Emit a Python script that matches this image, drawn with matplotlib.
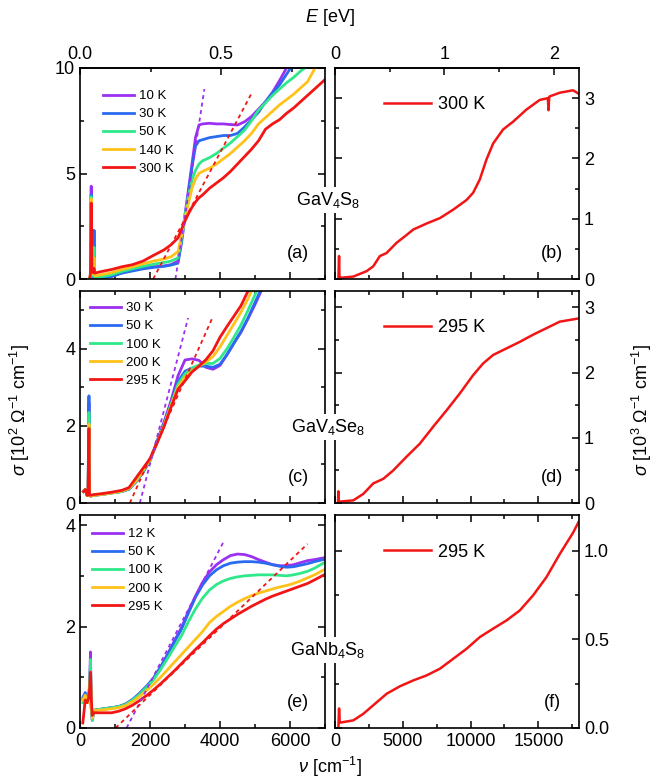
import numpy as np
import matplotlib
matplotlib.use('Agg')
import matplotlib.pyplot as plt
from matplotlib.ticker import MultipleLocator, FixedLocator, FormatStrFormatter

# ---- data (nu in cm^-1, sigma in panel units) ----
CM_PER_EV = 8065.54

# panel (a) GaV4S8, 10^2 Ohm^-1 cm^-1
nu_a = [280, 300, 320, 340, 360, 380, 400, 420, 600, 900, 1200, 1500, 1800, 2100,
        2400, 2600, 2800, 2900, 3000, 3100, 3200, 3300, 3400, 3500, 3700, 3900,
        4100, 4300, 4500, 4700, 4900, 5100, 5300, 5500, 5700, 5900, 6100, 6300,
        6500, 6700, 7000]
temps_a = ['10 K', '30 K', '50 K', '140 K', '300 K']
sig_a_10 = [0, 0.2, 4.4, 0.2, 0.1, 0.3, 2.3, 0.05, 0.08, 0.13, 0.3, 0.42, 0.52, 0.58,
            0.62, 0.68, 0.85, 1.85, 3.05, 4.25, 5.45, 6.7, 7.3, 7.35, 7.38, 7.35,
            7.35, 7.32, 7.3, 7.45, 7.7, 8.05, 8.4, 8.85, 9.4, 10.0, 10.5, 10.9,
            11.3, 11.7, 12.2]
sig_a_30 = [0, 0.2, 4.0, 0.2, 0.1, 0.3, 2.3, 0.05, 0.06, 0.12, 0.28, 0.38, 0.48, 0.55,
            0.6, 0.66, 0.75, 1.7, 2.95, 4.1, 5.3, 6.3, 6.55, 6.6, 6.7, 6.75,
            6.8, 6.8, 6.9, 7.2, 7.55, 7.9, 8.4, 8.8, 9.2, 9.7, 10.2, 10.6,
            11.0, 11.4, 12.0]
sig_a_50 = [0, 0.2, 3.9, 0.25, 0.15, 0.3, 1.5, 0.08, 0.1, 0.2, 0.36, 0.48, 0.6, 0.7,
            0.78, 0.85, 1.0, 1.9, 3.0, 3.95, 4.7, 5.15, 5.45, 5.6, 5.75, 5.95,
            6.2, 6.45, 6.75, 7.05, 7.5, 8.0, 8.35, 8.7, 9.0, 9.3, 9.55, 9.85,
            10.1, 10.4, 10.8]
sig_a_140 = [0, 0.25, 3.8, 0.3, 0.25, 0.3, 1.0, 0.15, 0.2, 0.3, 0.45, 0.58, 0.72, 0.85,
             0.95, 1.05, 1.3, 2.05, 2.9, 3.6, 4.3, 4.75, 5.0, 5.1, 5.25, 5.45,
             5.7, 5.95, 6.25, 6.55, 6.9, 7.35, 7.65, 7.95, 8.25, 8.5, 8.75, 9.05,
             9.35, 9.95, 10.5]
sig_a_300 = [0, 0.3, 3.6, 0.4, 0.35, 0.3, 0.5, 0.28, 0.35, 0.45, 0.58, 0.68, 0.85, 1.12,
             1.38, 1.62, 1.95, 2.35, 2.75, 3.1, 3.4, 3.65, 3.85, 3.98, 4.3, 4.55,
             4.8, 5.1, 5.45, 5.8, 6.15, 6.55, 7.1, 7.35, 7.55, 7.85, 8.1, 8.4,
             8.7, 9.0, 9.45]
fit_a_10 = ([2727, 3553], [0, 9.0])
fit_a_300 = ([2090, 4883], [0, 8.74])

# panel (c) GaV4Se8
nu_c = [100, 150, 200, 230, 256, 270, 300, 400, 600, 900, 1200, 1400, 1600, 1800,
        2000, 2200, 2400, 2600, 2800, 3000, 3200, 3400, 3600, 3800, 4000, 4200,
        4400, 4600, 4800, 5000, 5200]
temps_c = ['30 K', '50 K', '100 K', '200 K', '295 K']
sig_c_30 = [0.3, 0.35, 0.2, 0.2, 2.6, 0.2, 0.18, 0.2, 0.22, 0.26, 0.3, 0.36, 0.55, 0.8,
            1.1, 1.6, 2.1, 2.65, 3.3, 3.71, 3.74, 3.7, 3.52, 3.47, 3.57, 3.85,
            4.15, 4.43, 4.78, 5.15, 5.55]
sig_c_50 = [0.3, 0.35, 0.2, 0.2, 2.78, 0.2, 0.18, 0.2, 0.22, 0.26, 0.3, 0.36, 0.55, 0.8,
            1.1, 1.58, 2.05, 2.58, 3.15, 3.42, 3.5, 3.55, 3.55, 3.52, 3.6, 3.85,
            4.15, 4.45, 4.8, 5.2, 5.6]
sig_c_100 = [0.3, 0.35, 0.2, 0.2, 2.35, 0.2, 0.18, 0.2, 0.22, 0.26, 0.3, 0.37, 0.56, 0.82,
             1.1, 1.57, 2.02, 2.55, 3.08, 3.35, 3.5, 3.58, 3.62, 3.62, 3.75, 4.0,
             4.3, 4.62, 5.0, 5.4, 5.8]
sig_c_200 = [0.3, 0.35, 0.2, 0.2, 2.05, 0.2, 0.18, 0.2, 0.22, 0.26, 0.31, 0.38, 0.58, 0.85,
             1.12, 1.56, 2.0, 2.52, 3.0, 3.27, 3.42, 3.55, 3.66, 3.8, 4.05, 4.35,
             4.65, 4.95, 5.3, 5.7, 6.1]
sig_c_295 = [0.3, 0.35, 0.2, 0.2, 1.93, 0.22, 0.2, 0.22, 0.24, 0.28, 0.33, 0.4, 0.65, 0.9,
             1.15, 1.55, 1.98, 2.48, 2.95, 3.17, 3.4, 3.55, 3.72, 3.95, 4.3, 4.58,
             4.85, 5.12, 5.5, 5.9, 6.3]
fit_c_30 = ([1710, 3088], [0, 4.8])
fit_c_295 = ([1425, 3800], [0, 4.84])

# panel (e) GaNb4S8
nu_e = [80, 150, 200, 250, 280, 300, 320, 350, 400, 500, 700, 900, 1100, 1300, 1500,
        1700, 1900, 2100, 2300, 2500, 2700, 2900, 3100, 3300, 3500, 3700, 3900,
        4100, 4300, 4500, 4700, 4900, 5100, 5300, 5500, 5700, 5900, 6100, 6300,
        6500, 6700, 7000]
temps_e = ['12 K', '50 K', '100 K', '200 K', '295 K']
sig_e_12 = [0.55, 0.65, 0.55, 0.6, 1.0, 1.5, 0.4, 0.15, 0.35, 0.36, 0.38, 0.4, 0.42,
            0.47, 0.56, 0.68, 0.82, 0.98, 1.2, 1.45, 1.72, 1.98, 2.3, 2.6, 2.87,
            3.08, 3.22, 3.32, 3.4, 3.43, 3.42, 3.38, 3.32, 3.27, 3.22, 3.2, 3.2,
            3.22, 3.26, 3.3, 3.32, 3.36]
sig_e_50 = [0.6, 0.7, 0.6, 0.55, 0.9, 1.25, 0.4, 0.2, 0.35, 0.36, 0.38, 0.4, 0.42,
            0.47, 0.56, 0.68, 0.82, 0.98, 1.2, 1.44, 1.7, 1.95, 2.27, 2.58, 2.82,
            3.0, 3.12, 3.2, 3.25, 3.27, 3.28, 3.28, 3.27, 3.25, 3.22, 3.19, 3.17,
            3.18, 3.21, 3.24, 3.28, 3.33]
sig_e_100 = [0.5, 0.6, 0.5, 0.55, 0.9, 1.35, 0.5, 0.15, 0.35, 0.36, 0.38, 0.4, 0.42,
             0.46, 0.55, 0.66, 0.8, 0.95, 1.15, 1.37, 1.6, 1.82, 2.1, 2.35, 2.56,
             2.72, 2.83, 2.9, 2.95, 2.98, 3.0, 3.01, 3.02, 3.02, 3.02, 3.01, 3.0,
             3.02, 3.05, 3.09, 3.15, 3.27]
sig_e_200 = [0.55, 0.65, 0.55, 0.5, 0.8, 1.1, 0.5, 0.2, 0.35, 0.35, 0.36, 0.38, 0.4,
             0.44, 0.52, 0.62, 0.74, 0.86, 1.0, 1.15, 1.3, 1.45, 1.6, 1.75, 1.9,
             2.08, 2.2, 2.3, 2.4, 2.48, 2.55, 2.61, 2.66, 2.7, 2.74, 2.78, 2.81,
             2.85, 2.9, 2.96, 3.02, 3.13]
sig_e_295 = [0.1, 0.55, 0.5, 0.6, 0.8, 1.1, 0.6, 0.25, 0.3, 0.3, 0.3, 0.3, 0.33,
             0.38, 0.45, 0.54, 0.64, 0.75, 0.87, 1.0, 1.13, 1.27, 1.41, 1.55, 1.68,
             1.82, 1.95, 2.06, 2.15, 2.24, 2.32, 2.4, 2.47, 2.54, 2.6, 2.65, 2.7,
             2.75, 2.8, 2.85, 2.92, 3.03]
fit_e_12 = ([1330, 4123], [0, 3.7])
fit_e_295 = ([1016, 6500], [0, 3.63])

# right column, room temperature, 10^3 Ohm^-1 cm^-1
nu_b = [250, 300, 330, 400, 1350, 2330, 2820, 3310, 3800, 4540, 5280, 5770, 6750,
        7740, 8720, 9700, 10190, 10680, 11170, 11670, 12400, 13140, 14120, 15100,
        15700, 15750, 15800, 15850, 16580, 17560, 18000]
sig_b = [0.0, 0.38, 0.02, 0.02, 0.04, 0.13, 0.21, 0.38, 0.43, 0.6, 0.73, 0.82, 0.92,
         1.01, 1.15, 1.31, 1.43, 1.65, 1.98, 2.25, 2.48, 2.61, 2.81, 2.97,
         3.0, 2.8, 3.02, 3.03, 3.09, 3.13, 3.07]
nu_d = [220, 250, 280, 1350, 2090, 2820, 3560, 4300, 5280, 6260, 7245, 8230, 9210,
        10190, 10930, 11670, 12650, 13630, 14610, 15600, 16580, 18000]
sig_d = [0.0, 0.18, 0.02, 0.04, 0.14, 0.3, 0.37, 0.5, 0.71, 0.91, 1.17, 1.42, 1.68,
         1.96, 2.14, 2.27, 2.37, 2.47, 2.58, 2.68, 2.78, 2.83]
nu_f = [250, 300, 350, 1350, 2090, 2820, 3810, 4790, 5770, 6750, 7740, 8720, 9700,
        10680, 11670, 12650, 13630, 14610, 15600, 16580, 17560, 18000]
sig_f = [0.0, 0.11, 0.03, 0.043, 0.08, 0.128, 0.193, 0.235, 0.268, 0.296, 0.334,
         0.39, 0.446, 0.512, 0.56, 0.606, 0.662, 0.747, 0.85, 0.98, 1.1, 1.165]

colors = ['#9b30f2', '#2a6af0', '#2ee88a', '#ffc21a', '#f21515']

plt.rcParams['font.family'] = ['Liberation Sans', 'DejaVu Sans']
plt.rcParams['mathtext.fontset'] = 'custom'
plt.rcParams['mathtext.rm'] = 'Liberation Sans'
plt.rcParams['mathtext.it'] = 'Liberation Sans:italic'
plt.rcParams['xtick.direction'] = 'in'
plt.rcParams['ytick.direction'] = 'in'
plt.rcParams['xtick.major.size'] = 5
plt.rcParams['ytick.major.size'] = 5
plt.rcParams['xtick.minor.size'] = 3
plt.rcParams['ytick.minor.size'] = 3
plt.rcParams['axes.linewidth'] = 1.2
plt.rcParams['xtick.major.width'] = 1.1
plt.rcParams['ytick.major.width'] = 1.1
plt.rcParams['xtick.minor.width'] = 1.1
plt.rcParams['ytick.minor.width'] = 1.1

W, H = 662, 781
fig = plt.figure(figsize=(W / 100, H / 100), dpi=100)

def box(x0, x1, y0, y1):
    return [x0 / W, 1 - y1 / H, (x1 - x0) / W, (y1 - y0) / H]

rows = [(68, 279), (291, 503), (515, 728)]
ax_a = fig.add_axes(box(80, 325, *rows[0]))
ax_b = fig.add_axes(box(335, 579, *rows[0]))
ax_c = fig.add_axes(box(80, 325, *rows[1]))
ax_d = fig.add_axes(box(335, 579, *rows[1]))
ax_e = fig.add_axes(box(80, 325, *rows[2]))
ax_f = fig.add_axes(box(335, 579, *rows[2]))

left = [
    (ax_a, nu_a, [sig_a_10, sig_a_30, sig_a_50, sig_a_140, sig_a_300], temps_a,
     fit_a_10, fit_a_300, 10, 5, 2.5, '(a)', (0.073, 0.92)),
    (ax_c, nu_c, [sig_c_30, sig_c_50, sig_c_100, sig_c_200, sig_c_295], temps_c,
     fit_c_30, fit_c_295, 5.5, 2, 1, '(c)', (0.02, 0.972)),
    (ax_e, nu_e, [sig_e_12, sig_e_50, sig_e_100, sig_e_200, sig_e_295], temps_e,
     fit_e_12, fit_e_295, 4.2, 2, 1, '(e)', (0.029, 0.963)),
]
for ax, nu, sigs, temps, fit1, fit2, ymax, ymaj, ymin, letter, anchor in left:
    for s, t, c in zip(sigs, temps, colors):
        ax.plot(nu, s, color=c, lw=2.0, label=t)
    ax.plot(fit1[0], fit1[1], color=colors[0], lw=1.3, ls=(0, (2.2, 2)))
    ax.plot(fit2[0], fit2[1], color=colors[4], lw=1.3, ls=(0, (2.2, 2)))
    ax.set_xlim(0, 7000)
    ax.set_ylim(0, ymax)
    ax.xaxis.set_major_locator(MultipleLocator(2000))
    ax.xaxis.set_minor_locator(MultipleLocator(1000))
    ax.yaxis.set_major_locator(MultipleLocator(ymaj))
    ax.yaxis.set_minor_locator(MultipleLocator(ymin))
    ax.tick_params(which='both', top=(ax is not ax_a), right=True, labelsize=13)
    ax.legend(loc='upper left', bbox_to_anchor=anchor, frameon=False, fontsize=9.5,
              handlelength=2.3, labelspacing=0.44, handletextpad=0.4, borderaxespad=0)
    ax.text(0.89, 0.12, letter, transform=ax.transAxes, fontsize=13, ha='center', va='center')

right = [
    (ax_b, nu_b, sig_b, '300 K', 3.5, 1, 0.5, '(b)'),
    (ax_d, nu_d, sig_d, '295 K', 3.25, 1, 0.5, '(d)'),
    (ax_f, nu_f, sig_f, '295 K', 1.2, 0.5, 0.25, '(f)'),
]
for ax, nu, s, t, ymax, ymaj, ymin, letter in right:
    ax.plot(nu, s, color=colors[4], lw=1.8, label=t)
    ax.set_xlim(0, 18000)
    ax.set_ylim(0, ymax)
    ax.xaxis.set_major_locator(MultipleLocator(5000))
    ax.xaxis.set_minor_locator(MultipleLocator(2500))
    ax.yaxis.set_major_locator(MultipleLocator(ymaj))
    ax.yaxis.set_minor_locator(MultipleLocator(ymin))
    ax.tick_params(which='both', top=(ax is not ax_b), right=True, left=True,
                   labelleft=False, labelright=True, labelsize=13)
    ax.legend(loc='upper left', bbox_to_anchor=(0.17, 0.9), frameon=False, fontsize=13,
              handlelength=2.6, handletextpad=0.4, borderaxespad=0)
    ax.text(0.89, 0.12, letter, transform=ax.transAxes, fontsize=13, ha='center', va='center')
ax_f.yaxis.set_major_formatter(FormatStrFormatter('%.1f'))

for ax in [ax_a, ax_b, ax_c, ax_d]:
    ax.tick_params(labelbottom=False)

# photon energy on top of the first row
e_top = [(ax_a, [0.0, 0.5], [0.25, 0.75], '%.1f'), (ax_b, [0, 1, 2], [0.5, 1.5], '%d')]
for ax, emaj, emin, fmt in e_top:
    sec = ax.secondary_xaxis('top', functions=(lambda v: v / CM_PER_EV,
                                               lambda e: e * CM_PER_EV))
    sec.xaxis.set_major_locator(FixedLocator(emaj))
    sec.xaxis.set_minor_locator(FixedLocator(emin))
    sec.xaxis.set_major_formatter(FormatStrFormatter(fmt))
    sec.tick_params(which='both', direction='in', labelsize=13)

fig.text(330 / W, 1 - 18 / H, r'$E$ [eV]', fontsize=13, ha='center', va='center')
fig.text(330 / W, 1 - 767 / H, r'$\nu$ [cm$^{-1}$]', fontsize=13, ha='center', va='center')
fig.text(20 / W, 1 - 410 / H, r'$\sigma$ [10$^2$ $\Omega^{-1}$ cm$^{-1}$]', fontsize=13,
         rotation=90, ha='center', va='center')
fig.text(642 / W, 1 - 410 / H, r'$\sigma$ [10$^3$ $\Omega^{-1}$ cm$^{-1}$]', fontsize=13,
         rotation=90, ha='center', va='center')

for label, y in [('GaV$_4$S$_8$', 200), ('GaV$_4$Se$_8$', 427), ('GaNb$_4$S$_8$', 650)]:
    fig.text(328 / W, 1 - y / H, label, fontsize=13, ha='center', va='center',
             bbox=dict(facecolor='white', edgecolor='none', pad=2))

fig.savefig('out.png', dpi=100)
